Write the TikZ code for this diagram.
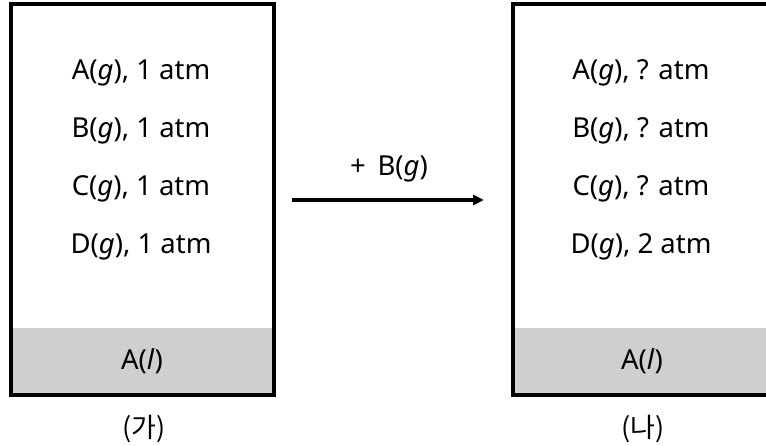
\documentclass[tikz,border=0pt]{standalone}
\usepackage{fontspec}
\setmainfont{Noto Sans}
\newfontfamily\krfont{Noto Sans CJK KR}
\usetikzlibrary{arrows.meta}
\definecolor{liqgray}{RGB}{207,207,207}
\tikzset{
  vessel/.style={draw=black, line width=4pt},
  liquid/.style={fill=liqgray, draw=none},
  gaslabel/.style={font=\fontsize{27.5}{32}\selectfont, inner sep=0pt, anchor=center},
  caption/.style={font=\krfont\fontsize{27}{32}\selectfont, inner sep=0pt},
  reactarrow/.style={line width=3.2pt, -{Triangle[length=11pt,width=10pt]}}
}
\begin{document}
\begin{tikzpicture}[x=1pt,y=-1pt]
\useasboundingbox (0,0) rectangle (766,446);
\clip (0,0) rectangle (766,446);
% left vessel
\fill[liquid] (10.5,328) rectangle (274,394.5);
\draw[vessel] (10.5,4.4) rectangle (274,394.5);
% right vessel
\fill[liquid] (512.7,328) rectangle (772,394.5);
\draw[vessel] (512.7,4.4) rectangle (772,394.5);
% left labels
\node[gaslabel] (la) at (141,73) {A(\textit{g}), 1 atm};
\node[gaslabel] (lb) at (141,131) {B(\textit{g}), 1 atm};
\node[gaslabel] (lc) at (141,189) {C(\textit{g}), 1 atm};
\node[gaslabel] (ld) at (141,247) {D(\textit{g}), 1 atm};
\node[gaslabel] (ll) at (142,361) {A(\textit{l})};
\node[caption] (cap1) at (144,429) {(가)};
% right labels
\node[gaslabel] (ra) at (641,73) {A(\textit{g}), ? atm};
\node[gaslabel] (rb) at (641,131) {B(\textit{g}), ? atm};
\node[gaslabel] (rc) at (641,189) {C(\textit{g}), ? atm};
\node[gaslabel] (rd) at (641,247) {D(\textit{g}), 2 atm};
\node[gaslabel] (rl) at (642,361) {A(\textit{l})};
\node[caption] (cap2) at (643,429) {(나)};
% arrow
\coordinate (arrS) at (292,200);
\coordinate (arrE) at (484,200);
\draw[reactarrow] (arrS) -- (arrE);
\node[gaslabel] (addb) at (389,169) {+ \,B(\textit{g})};
\end{tikzpicture}
\end{document}
